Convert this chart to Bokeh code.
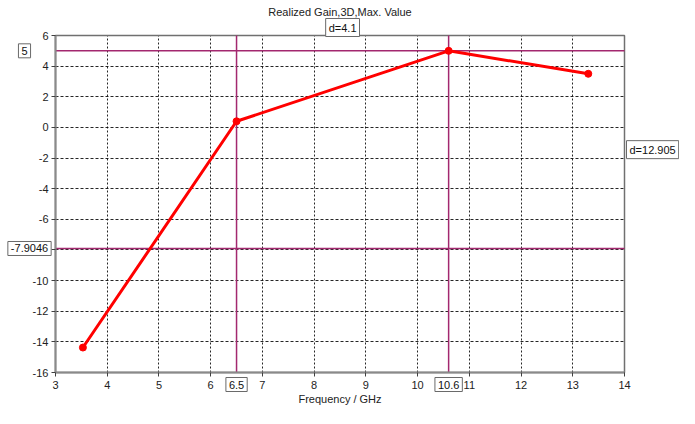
from bokeh.plotting import figure
from bokeh.models import Label, FixedTicker, Range1d
from bokeh.embed import file_html
from bokeh.resources import INLINE

# data
freq = [3.53, 6.5, 10.6, 13.3]
gain = [-14.37, 0.4, 5.0, 3.5]
x_markers = [6.5, 10.6]
y_markers = [5.0, -7.9046]
x_marker_labels = ["6.5", "10.6"]
y_marker_labels = ["5", "-7.9046"]
dx_label = "d=4.1"
dy_label = "d=12.905"
x_ticks = list(range(3, 15))
y_ticks = list(range(-16, 7, 2))
x_lo, x_hi = 3, 14
y_lo, y_hi = -16, 6
title_text = "Realized Gain,3D,Max. Value"
x_label = "Frequency / GHz"

FONT = "Liberation Sans"
MARK = "#A3286F"
W, H = 679, 408
# plot-box placement inside the canvas (pixels)
L, R, T, B = 55, 624, 35, 372

xs = (R - L) / (x_hi - x_lo)
ys = (B - T) / (y_hi - y_lo)
x_range = Range1d(x_lo - L / xs, x_hi + (W - R) / xs)
y_range = Range1d(y_lo - (H - B) / ys, y_hi + T / ys)

p = figure(width=W, height=H, x_range=x_range, y_range=y_range,
           output_backend="svg", toolbar_location=None,
           min_border=0, min_border_left=0, min_border_right=0,
           min_border_top=0, min_border_bottom=0)
p.background_fill_color = "white"
p.border_fill_color = "white"
p.outline_line_color = None

p.xaxis.fixed_location = y_lo
p.yaxis.fixed_location = x_lo
p.xaxis.bounds = (x_lo, x_hi)
p.yaxis.bounds = (y_lo, y_hi)
for ax in (p.xaxis[0], p.yaxis[0]):
    ax.axis_line_color = "#8a8a8a"
    ax.axis_line_width = 2
    ax.major_tick_line_color = "#404040"
    ax.minor_tick_line_color = None
    ax.major_tick_in = 0
    ax.major_tick_out = 4
    ax.major_label_text_font = FONT
    ax.major_label_text_font_size = "11px"
    ax.major_label_text_color = "#222222"
    ax.major_label_standoff = 3

p.xaxis.major_label_standoff = 4
p.xaxis.ticker = FixedTicker(ticks=x_ticks)
p.yaxis.ticker = FixedTicker(ticks=y_ticks)
p.xaxis.major_label_overrides = {t: str(t) for t in x_ticks}
p.yaxis.major_label_overrides = {t: str(t) for t in y_ticks}
p.xaxis.axis_label = x_label
p.xaxis.axis_label_text_font = FONT
p.xaxis.axis_label_text_font_size = "11px"
p.xaxis.axis_label_text_font_style = "normal"
p.xaxis.axis_label_text_color = "#222222"
p.xaxis.axis_label_standoff = 1

xg, yg = p.xgrid[0], p.ygrid[0]
for g in (xg, yg):
    g.grid_line_color = "black"
    g.grid_line_alpha = 0.85
    g.grid_line_width = 1
xg.grid_line_dash = "2 2"
yg.grid_line_dash = "3 2"
xg.bounds = (x_lo, x_hi)
yg.bounds = (y_lo, y_hi)
if "cross_bounds" in xg.properties():
    xg.cross_bounds = (y_lo, y_hi)
    yg.cross_bounds = (x_lo, x_hi)
else:
    xg.visible = False
    yg.visible = False
    p.segment(x0=x_ticks, y0=[y_lo] * len(x_ticks), x1=x_ticks, y1=[y_hi] * len(x_ticks),
              line_color="black", line_dash="2 2", line_alpha=0.85, level="underlay")
    p.segment(x0=[x_lo] * len(y_ticks), y0=y_ticks, x1=[x_hi] * len(y_ticks), y1=y_ticks,
              line_color="black", line_dash="3 2", line_alpha=0.85, level="underlay")

# plot box (top / right borders)
p.quad(left=[x_lo], right=[x_hi], bottom=[y_lo], top=[y_hi], fill_color=None,
       line_color="#707070", line_width=1.5)

# marker lines
p.segment(x0=x_markers, y0=[y_lo] * 2, x1=x_markers, y1=[y_hi] * 2, line_color=MARK, line_width=1.5)
p.segment(x0=[x_lo] * 2, y0=y_markers, x1=[x_hi] * 2, y1=y_markers, line_color=MARK, line_width=1.5)

# curve
p.line(freq, gain, line_color="red", line_width=3)
p.scatter(freq, gain, size=7, color="red")

box = dict(border_line_color="#6a6a6a", border_line_width=1, background_fill_color="white",
           text_font=FONT, text_font_size="11px", text_color="#111111", padding=3)

p.add_layout(Label(x=x_lo, y=y_markers[0], text=y_marker_labels[0], x_offset=-31,
                   text_align="center", text_baseline="middle", **box))
p.add_layout(Label(x=x_lo, y=y_markers[1], text=y_marker_labels[1], x_offset=-26,
                   text_align="center", text_baseline="middle", **box))
for xm, t in zip(x_markers, x_marker_labels):
    p.add_layout(Label(x=xm, y=y_lo, text=t, y_offset=-12,
                       text_align="center", text_baseline="middle", **box))
p.add_layout(Label(x=(x_markers[0] + x_markers[1]) / 2, y=y_hi, text=dx_label, y_offset=8,
                   text_align="center", text_baseline="middle", **box))
p.add_layout(Label(x=x_hi, y=(y_markers[0] + y_markers[1]) / 2, text=dy_label, x_offset=2,
                   text_align="left", text_baseline="middle", **box))
p.add_layout(Label(x=(x_lo + x_hi) / 2, y=y_hi, text=title_text, y_offset=24, text_align="center",
                   text_baseline="middle", text_font=FONT, text_font_size="11px",
                   text_color="#222222"))

open("out.html", "w").write(file_html(p, INLINE))
